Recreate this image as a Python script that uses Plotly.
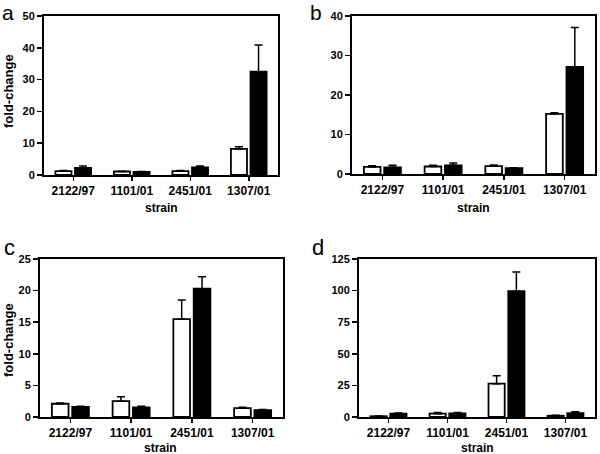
import plotly.graph_objects as go

W, H = 600, 454

strains = ["2122/97", "1101/01", "2451/01", "1307/01"]

a_white = [1.2, 1.1, 1.2, 8.2]
a_white_err = [0.2, 0.1, 0.2, 0.7]
a_black = [2.2, 1.0, 2.4, 32.5]
a_black_err = [0.6, 0.1, 0.4, 8.4]

b_white = [1.8, 1.9, 2.0, 15.2]
b_white_err = [0.3, 0.3, 0.3, 0.3]
b_black = [1.7, 2.2, 1.5, 27.1]
b_black_err = [0.5, 0.6, 0.1, 10.0]

c_white = [2.1, 2.5, 15.5, 1.4]
c_white_err = [0.1, 0.7, 3.0, 0.15]
c_black = [1.6, 1.5, 20.3, 1.1]
c_black_err = [0.1, 0.2, 1.9, 0.1]

d_white = [0.6, 2.6, 26.4, 1.0]
d_white_err = [0.2, 0.9, 6.3, 0.3]
d_black = [2.6, 2.8, 99.5, 3.0]
d_black_err = [0.6, 0.7, 15.3, 1.2]

panels = [
    ("a", a_white, a_white_err, a_black, a_black_err, 50, 10, (44, 278, 16, 175)),
    ("b", b_white, b_white_err, b_black, b_black_err, 40, 10, (352, 595, 16, 174)),
    ("c", c_white, c_white_err, c_black, c_black_err, 25, 5, (40, 283, 259, 417)),
    ("d", d_white, d_white_err, d_black, d_black_err, 125, 25, (359, 595, 259, 417)),
]

FONT = "Arial, Liberation Sans, sans-serif"
fig = go.Figure()
layout = {}
annotations = []


def fx(px):
    return px / W


def fy(py):
    return 1 - py / H


for i, (lab, wv, we, bv, be, ymax, dtick, (x0, x1, y0, y1)) in enumerate(panels):
    n = "" if i == 0 else str(i + 1)
    xa, ya = "x" + n, "y" + n
    for vals, errs, col in ((wv, we, "white"), (bv, be, "black")):
        fig.add_trace(go.Bar(
            x=strains, y=vals, xaxis=xa, yaxis=ya,
            marker=dict(color=col, line=dict(color="black", width=1.8)),
            error_y=dict(type="data", symmetric=False, array=errs,
                         arrayminus=[0] * len(errs), color="black",
                         thickness=1.5, width=4),
            showlegend=False, hoverinfo="skip",
        ))
    layout["xaxis" + n] = dict(
        domain=[fx(x0), fx(x1)], anchor=ya, range=[-0.5, 3.5],
        showline=True, mirror=True, linecolor="black", linewidth=2,
        ticks="outside", ticklen=4, tickwidth=1.5, tickcolor="black",
        tickfont=dict(family=FONT, size=12, color="black", weight="bold"),
        showgrid=False, fixedrange=True, automargin=False,
    )
    layout["yaxis" + n] = dict(
        domain=[fy(y1), fy(y0)], anchor=xa, range=[0, ymax],
        dtick=dtick, tick0=0,
        showline=True, mirror=True, linecolor="black", linewidth=2,
        ticks="outside", ticklen=5, tickwidth=1.5, tickcolor="black",
        tickfont=dict(family=FONT, size=11, color="black", weight="bold"),
        showgrid=False, zeroline=False, fixedrange=True, automargin=False,
    )


def ann(text, px, py, size, bold=False, angle=0, yanchor="middle"):
    annotations.append(dict(
        text=text, x=fx(px), y=fy(py), xref="paper", yref="paper",
        showarrow=False, xanchor="center", yanchor=yanchor, textangle=angle,
        borderpad=0,
        font=dict(family=FONT, size=size, color="black",
                  weight="bold" if bold else "normal"),
    ))


ann("a", 8, 0, 21, yanchor="top")
ann("b", 316, 0, 21, yanchor="top")
ann("c", 9, 247, 22)
ann("d", 318, 247, 22)
ann("strain", 161, 208, 12, bold=True)
ann("strain", 473, 208, 12, bold=True)
ann("strain", 160, 448, 12, bold=True)
ann("strain", 477, 448, 12, bold=True)
ann("fold-change", 8, 91, 13, bold=True, angle=-90)
ann("fold-change", 8, 340, 13, bold=True, angle=-90)

fig.update_layout(
    template="none",
    width=W, height=H, margin=dict(l=0, r=0, t=0, b=0, autoexpand=False),
    paper_bgcolor="white", plot_bgcolor="white",
    barmode="group", bargap=0.33, bargroupgap=0.18,
    annotations=annotations, **layout,
)

fig.write_html(
    "out.html",
    config={"displayModeBar": False, "staticPlot": True},
    post_script="document.body.style.margin='0';document.body.style.overflow='hidden';",
)
